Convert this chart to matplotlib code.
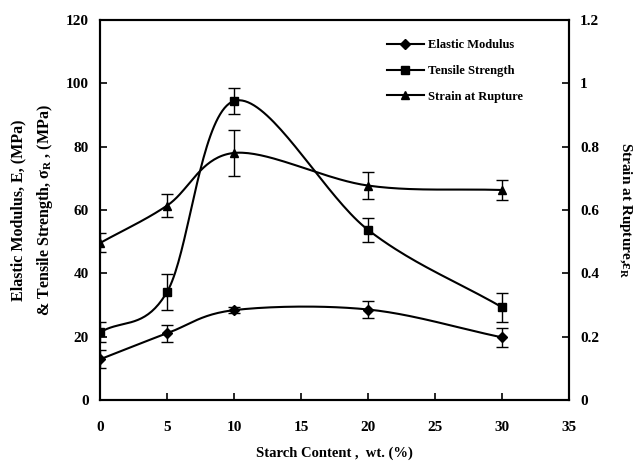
import numpy as np
import matplotlib.pyplot as plt

plt.rcParams['font.family'] = ['Liberation Serif', 'DejaVu Serif']
plt.rcParams['font.weight'] = 'bold'
plt.rcParams['axes.labelweight'] = 'bold'
plt.rcParams['mathtext.fontset'] = 'custom'
plt.rcParams['mathtext.rm'] = 'Liberation Serif:bold'
plt.rcParams['mathtext.it'] = 'Liberation Serif:bold'

starch = [0, 5, 10, 20, 30]
modulus = [12.9, 21.1, 28.4, 28.6, 19.8]
modulus_err = [2.8, 2.7, 1.0, 2.6, 3.0]
tensile = [21.4, 34.2, 94.4, 53.7, 29.3]
tensile_err = [3.2, 5.7, 4.0, 3.8, 4.5]
strain = [0.496, 0.614, 0.78, 0.677, 0.663]
strain_err = [0.03, 0.037, 0.073, 0.042, 0.032]


def smooth(x, y, n=40):
    # catmull-rom style smoothing between the measured points
    x = np.asarray(x, float)
    y = np.asarray(y, float)
    xs, ys = [], []
    for i in range(len(x) - 1):
        p0 = (x[i - 1], y[i - 1]) if i > 0 else (2 * x[0] - x[1], 2 * y[0] - y[1])
        p1 = (x[i], y[i])
        p2 = (x[i + 1], y[i + 1])
        p3 = (x[i + 2], y[i + 2]) if i + 2 < len(x) else (2 * x[-1] - x[-2], 2 * y[-1] - y[-2])
        t = np.linspace(0, 1, n)
        h1 = 2 * t**3 - 3 * t**2 + 1
        h2 = -2 * t**3 + 3 * t**2
        h3 = t**3 - 2 * t**2 + t
        h4 = t**3 - t**2
        for k, out in ((0, xs), (1, ys)):
            m1 = (p2[k] - p0[k]) / 2
            m2 = (p3[k] - p1[k]) / 2
            out.extend(h1 * p1[k] + h2 * p2[k] + h3 * m1 + h4 * m2)
    return np.array(xs), np.array(ys)


fig = plt.figure(figsize=(6.38, 4.61), dpi=100)
ax = fig.add_axes([0.157, 0.132, 0.735, 0.825])
ax2 = ax.twinx()

lw = 1.5
sx, sy = smooth(starch, modulus)
ax.plot(sx, sy, color='black', lw=lw)
ax.errorbar(starch, modulus, yerr=modulus_err, fmt='D', color='black', ms=5, capsize=4, elinewidth=1, lw=0)
sx, sy = smooth(starch, tensile)
ax.plot(sx, sy, color='black', lw=lw)
ax.errorbar(starch, tensile, yerr=tensile_err, fmt='s', color='black', ms=6, capsize=4, elinewidth=1, lw=0)
sx, sy = smooth(starch, strain)
ax2.plot(sx, sy, color='black', lw=lw)
ax2.errorbar(starch, strain, yerr=strain_err, fmt='^', color='black', ms=6, capsize=4, elinewidth=1, lw=0)

# legend proxies
h1, = ax.plot([], [], color='black', marker='D', ms=5, lw=lw, label='Elastic Modulus')
h2, = ax.plot([], [], color='black', marker='s', ms=6, lw=lw, label='Tensile Strength')
h3, = ax.plot([], [], color='black', marker='^', ms=6, lw=lw, label='Strain at Rupture')
ax.legend(handles=[h1, h2, h3], loc='upper left', bbox_to_anchor=(0.6, 0.962), frameon=False,
          fontsize=9, handlelength=3, labelspacing=1.1, handletextpad=0.3,
          borderaxespad=0)

ax.set_xlim(0, 35)
ax.set_ylim(0, 120)
ax2.set_ylim(0, 1.2)
ax.set_xticks(range(0, 36, 5))
ax.set_yticks(range(0, 121, 20))
ax2.set_yticks([0, 0.2, 0.4, 0.6, 0.8, 1.0, 1.2])
ax2.set_yticklabels(['0', '0.2', '0.4', '0.6', '0.8', '1', '1.2'])

for a in (ax, ax2):
    a.tick_params(direction='in', length=5, width=1.2, labelsize=11)
    for s in a.spines.values():
        s.set_linewidth(1.5)
ax.tick_params(axis='x', pad=15)
ax.tick_params(axis='y', pad=8)
ax2.tick_params(axis='y', pad=8)

ax.set_xlabel('Starch Content ,  wt. (%)', fontsize=10.5, labelpad=9)
ax.set_ylabel('Elastic Modulus, E, (MPa)\n& Tensile Strength, $\\sigma_R$ , (MPa)', fontsize=11.5,
              labelpad=8, linespacing=1.6)
ax2.set_ylabel('Strain at Rupture,$\\varepsilon_R$', fontsize=11, rotation=-90, labelpad=25)

fig.savefig('out.png', dpi=100)
